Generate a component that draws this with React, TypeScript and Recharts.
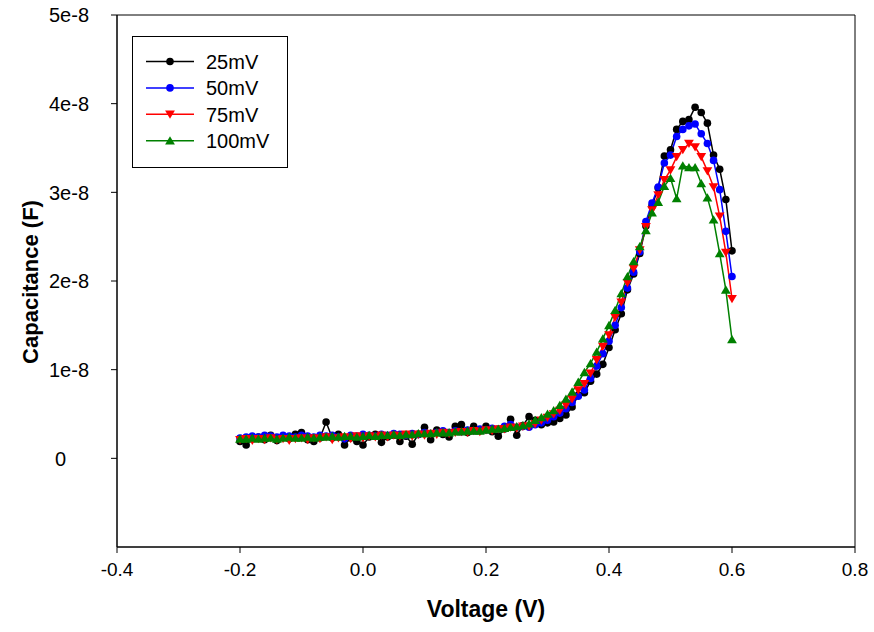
// C-V curves at four AC amplitudes, SigmaPlot look
import { LineChart, Line, XAxis, YAxis, ReferenceArea } from 'recharts';

const voltage = [
  -0.2, -0.19, -0.18, -0.17, -0.16, -0.15, -0.14, -0.13, -0.12, -0.11,
  -0.1, -0.09, -0.08, -0.07, -0.06, -0.05, -0.04, -0.03, -0.02, -0.01,
  0.0, 0.01, 0.02, 0.03, 0.04, 0.05, 0.06, 0.07, 0.08, 0.09,
  0.1, 0.11, 0.12, 0.13, 0.14, 0.15, 0.16, 0.17, 0.18, 0.19,
  0.2, 0.21, 0.22, 0.23, 0.24, 0.25, 0.26, 0.27, 0.28, 0.29,
  0.3, 0.31, 0.32, 0.33, 0.34, 0.35, 0.36, 0.37, 0.38, 0.39,
  0.4, 0.41, 0.42, 0.43, 0.44, 0.45, 0.46, 0.47, 0.48, 0.49,
  0.5, 0.51, 0.52, 0.53, 0.54, 0.55, 0.56, 0.57, 0.58, 0.59,
  0.6,
];

// capacitance in nF
const cap25 = [
  1.9, 1.5, 2.2, 2.4, 2.1, 2.6, 2.0, 2.4, 2.2, 2.7,
  2.9, 2.1, 1.9, 2.3, 4.1, 2.3, 2.7, 1.5, 2.3, 1.9,
  1.5, 2.4, 2.7, 1.8, 2.4, 2.6, 1.9, 2.5, 1.6, 2.7,
  3.5, 2.1, 3.2, 2.7, 2.4, 3.6, 3.8, 2.9, 3.6, 3.1,
  3.6, 3.0, 2.5, 3.3, 4.4, 2.6, 3.7, 4.7, 4.3, 3.8,
  4.0, 4.1, 4.5, 4.9, 5.8, 7.1, 7.4, 8.7, 9.5, 10.6,
  12.5, 14.5, 16.3, 19.0, 20.8, 23.1, 26.2, 28.5, 30.5, 34.1,
  34.8, 37.1, 38.0, 38.2, 39.6, 39.0, 37.8, 34.2, 32.6, 29.2,
  23.4,
];
const cap50 = [
  2.3, 2.4, 2.5, 2.4, 2.6, 2.5, 2.4, 2.6, 2.5, 2.4,
  2.6, 2.5, 2.4, 2.6, 2.5, 2.6, 2.4, 2.2, 2.6, 2.5,
  2.7, 2.6, 2.5, 2.7, 2.6, 2.8, 2.7, 2.6, 2.8, 2.7,
  2.9, 2.8, 2.9, 3.1, 2.9, 3.1, 3.0, 3.2, 3.1, 3.3,
  3.2, 3.4, 3.3, 3.6, 3.8, 3.5, 3.6, 3.5, 3.8, 4.0,
  4.3, 4.7, 5.1, 5.6, 6.3, 7.0, 7.7, 9.0, 10.4, 11.8,
  13.2, 15.0, 17.0, 19.2, 21.0, 23.3, 26.7, 28.8, 30.6, 33.3,
  34.2, 36.3, 37.1, 37.5, 37.7, 36.6, 35.5, 33.6, 30.3, 25.6,
  20.5,
];
const cap75 = [
  2.1, 2.2, 2.0, 2.2, 2.1, 2.3, 2.1, 2.2, 2.0, 2.2,
  2.3, 2.1, 2.3, 2.2, 2.4, 2.1, 2.3, 2.4, 2.2, 2.5,
  2.3, 2.5, 2.4, 2.6, 2.4, 2.6, 2.5, 2.7, 2.5, 2.7,
  2.6, 2.8, 2.7, 2.9, 2.8, 2.9, 3.0, 2.9, 3.1, 3.0,
  3.2, 3.1, 3.3, 3.3, 3.5, 3.4, 3.6, 3.6, 3.9, 4.3,
  4.6, 5.0, 5.4, 6.0, 6.7, 7.7, 8.4, 9.6, 11.1, 12.6,
  13.9, 15.9, 17.6, 19.8, 21.4, 23.5, 26.1, 28.0, 29.7, 31.4,
  32.5, 34.0, 34.8, 35.5, 35.1, 34.0, 32.4, 30.6, 27.3, 23.2,
  18.0,
];
const cap100 = [
  2.2, 2.2, 2.3, 2.2, 2.3, 2.3, 2.2, 2.3, 2.4, 2.3,
  2.3, 2.4, 2.3, 2.4, 2.4, 2.5, 2.4, 2.5, 2.5, 2.4,
  2.5, 2.6, 2.5, 2.6, 2.6, 2.7, 2.6, 2.7, 2.7, 2.8,
  2.8, 2.8, 2.9, 2.9, 2.9, 3.0, 3.0, 3.1, 3.1, 3.1,
  3.2, 3.3, 3.3, 3.4, 3.5, 3.6, 3.7, 3.9, 4.3, 4.6,
  5.0, 5.4, 6.0, 6.7, 7.5, 8.6, 9.7, 10.7, 12.0, 13.5,
  15.0, 16.7, 18.6, 20.5, 22.2, 23.9, 25.7, 27.7, 28.9, 30.7,
  31.6, 29.3, 33.0, 32.8, 32.8, 31.0, 29.4, 26.9, 23.1, 19.0,
  13.4,
];

const xTicks = [-0.4, -0.2, 0.0, 0.2, 0.4, 0.6, 0.8];
const yTicks = [0, 1e-8, 2e-8, 3e-8, 4e-8, 5e-8];

const seriesNames = ['25mV', '50mV', '75mV', '100mV'];
const seriesColors = ['#000000', '#0000ff', '#ff0000', '#008000'];
const seriesMarkers = ['circle', 'circle', 'down', 'up'];

const FONT = '"Liberation Sans", Arial, sans-serif';

const chartData = voltage.map((v, i) => ({
  v,
  s0: cap25[i] * 1e-9,
  s1: cap50[i] * 1e-9,
  s2: cap75[i] * 1e-9,
  s3: cap100[i] * 1e-9,
}));

function markerPath(kind: string, cx: number, cy: number) {
  if (kind === 'down') {
    return `M${cx - 4.9},${cy - 3.8} L${cx + 4.9},${cy - 3.8} L${cx},${cy + 4.5} Z`;
  }
  return `M${cx - 4.9},${cy + 3.8} L${cx + 4.9},${cy + 3.8} L${cx},${cy - 4.5} Z`;
}

function Marker({ kind, cx, cy, color }: { kind: string; cx: number; cy: number; color: string }) {
  if (kind === 'circle') return <circle cx={cx} cy={cy} r={3.8} fill={color} stroke="none" />;
  return <path d={markerPath(kind, cx, cy)} fill={color} stroke="none" />;
}

function makeDot(kind: string, color: string) {
  return (props: any) => {
    const { cx, cy, index } = props;
    if (cx == null || cy == null) return <g key={`d${index}`} />;
    return (
      <g key={`d${index}`}>
        <Marker kind={kind} cx={cx} cy={cy} color={color} />
      </g>
    );
  };
}

function LegendBox() {
  return (
    <svg width={157} height={133} style={{ display: 'block' }}>
      <rect x={0.5} y={0.5} width={155} height={131} fill="#fff" stroke="#000" strokeWidth={1} />
      {seriesNames.map((name, i) => {
        const y = 25.5 + i * 26.4;
        return (
          <g key={name}>
            <line x1={14} x2={62} y1={y} y2={y} stroke={seriesColors[i]} strokeWidth={1.5} />
            <Marker kind={seriesMarkers[i]} cx={38} cy={y} color={seriesColors[i]} />
            <text x={74} y={y} dy="0.36em" fontFamily={FONT} fontSize={20} fill="#000">
              {name}
            </text>
          </g>
        );
      })}
    </svg>
  );
}

function YTick({ y, payload }: any) {
  const v = payload.value;
  const label = v === 0 ? '0' : `${Math.round(v / 1e-8)}e-8`;
  return (
    <text x={v === 0 ? 55 : 49} y={y} dy="0.36em" fontFamily={FONT} fontSize={20} fill="#000">
      {label}
    </text>
  );
}

export default function App() {
  return (
    <div style={{ position: 'absolute', left: 0, top: 0, width: 874, height: 632, background: '#fff' }}>
      <LineChart
        width={874}
        height={632}
        data={chartData}
        margin={{ top: 15, right: 19, left: 0, bottom: 0 }}
      >
        <XAxis
          dataKey="v"
          type="number"
          domain={[-0.4, 0.8]}
          ticks={xTicks}
          tickFormatter={(v: number) => v.toFixed(1)}
          tick={{ fill: '#000', fontSize: 19, fontFamily: FONT }}
          tickLine={{ stroke: '#000' }}
          axisLine={{ stroke: '#000' }}
          tickSize={6}
          tickMargin={10}
          height={85}
          allowDataOverflow
          label={{
            content: () => (
              <text x={486} y={609} dy="0.36em" textAnchor="middle" fontFamily={FONT} fontSize={23} fontWeight="bold" fill="#000">
                Voltage (V)
              </text>
            ),
          }}
        />
        <YAxis
          type="number"
          domain={[-1e-8, 5e-8]}
          ticks={yTicks}
          tick={<YTick />}
          tickLine={{ stroke: '#000' }}
          axisLine={{ stroke: '#000' }}
          tickSize={6}
          width={117}
          allowDataOverflow
          label={{
            content: () => (
              <text
                x={30}
                y={282}
                dy="0.36em"
                textAnchor="middle"
                transform="rotate(-90, 30, 282)"
                fontFamily={FONT}
                fontSize={22}
                fontWeight="bold"
                fill="#000"
              >
                Capacitance (F)
              </text>
            ),
          }}
        />
        <ReferenceArea
          x1={-0.4}
          x2={0.8}
          y1={-1e-8}
          y2={5e-8}
          fill="none"
          fillOpacity={0}
          stroke="#000"
          strokeWidth={1}
          ifOverflow="visible"
        />
        {seriesNames.map((name, i) => (
          <Line
            key={name}
            type="linear"
            dataKey={`s${i}`}
            name={name}
            stroke={seriesColors[i]}
            strokeWidth={1.5}
            dot={makeDot(seriesMarkers[i], seriesColors[i])}
            activeDot={false}
            isAnimationActive={false}
          />
        ))}
      </LineChart>
      <div style={{ position: 'absolute', left: 132, top: 36 }}>
        <LegendBox />
      </div>
    </div>
  );
}
